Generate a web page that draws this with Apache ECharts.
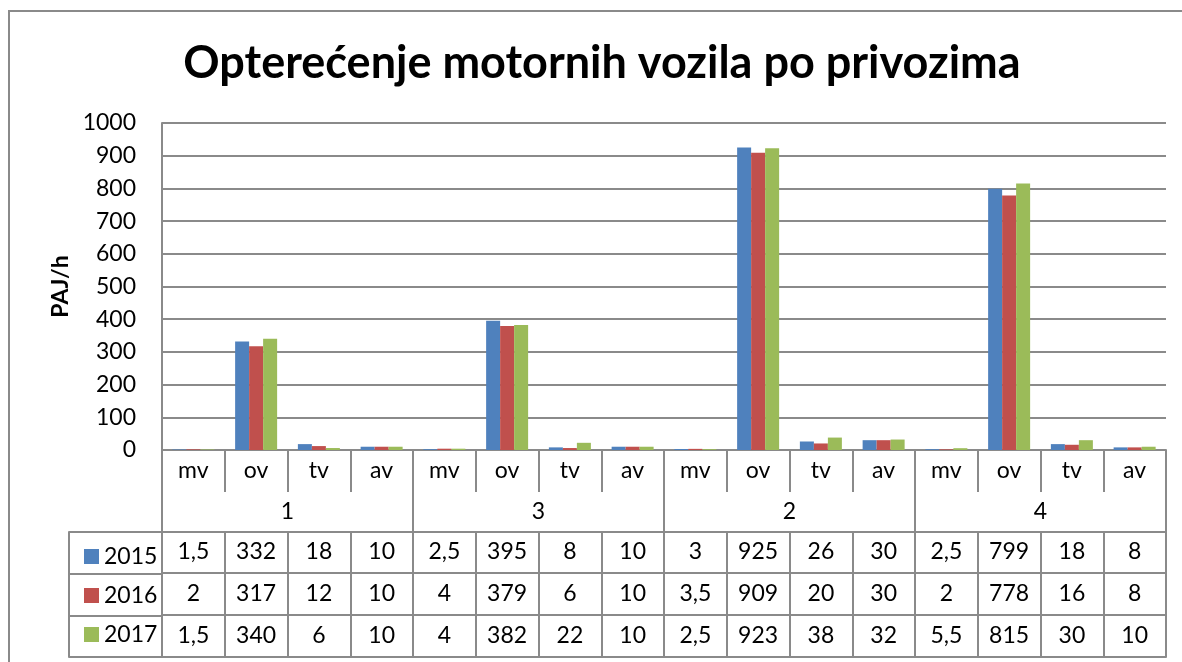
<!DOCTYPE html>
<html>
<head>
<meta charset="utf-8">
<script src="https://cdn.jsdelivr.net/npm/echarts@6/dist/echarts.min.js"></script>
<style>
  html, body { margin: 0; padding: 0; background: #fff; }
  #chart { width: 1182px; height: 662px; }
</style>
</head>
<body>
<div id="chart"></div>
<script>
// Approaches (privozi) and vehicle types per approach
const approaches = ['1', '3', '2', '4'];
const vehicleTypes = ['mv', 'ov', 'tv', 'av'];
const years = ['2015', '2016', '2017'];

// Hourly volumes (PAJ/h), in approach order, mv/ov/tv/av within each approach
const v2015 = [1.5, 332, 18, 10, 2.5, 395, 8, 10, 3, 925, 26, 30, 2.5, 799, 18, 8];
const v2016 = [2, 317, 12, 10, 4, 379, 6, 10, 3.5, 909, 20, 30, 2, 778, 16, 8];
const v2017 = [1.5, 340, 6, 10, 4, 382, 22, 10, 2.5, 923, 38, 32, 5.5, 815, 30, 10];

const yMin = 0, yMax = 1000, yStep = 100;

const colors = ['#4F81BD', '#C0504D', '#9BBB59'];
const lineColor = '#8a8a8a';
const font = 'Lato';

const categories = approaches.flatMap(a => vehicleTypes.map(t => t));
const fmt = v => String(v).replace('.', ',');

const gridLine = { lineStyle: { color: lineColor, width: 2 } };
const labelStyle = { color: '#000', fontFamily: font, fontSize: 23 };

// one table row drawn as a category axis below the plot
function tableRow(data, offset, tickLen, margin, showLine) {
  return {
    type: 'category', gridIndex: 0, position: 'bottom', offset: offset,
    data: data,
    axisLine: { show: showLine, lineStyle: { color: lineColor, width: 2 } },
    axisTick: { show: tickLen > 0, length: tickLen, interval: 0, lineStyle: { color: lineColor, width: 2 } },
    axisLabel: Object.assign({ interval: 0, margin: margin, verticalAlign: 'middle', lineHeight: 23 }, labelStyle),
    splitLine: { show: false }
  };
}

const chart = echarts.init(document.getElementById('chart'), null, { renderer: 'canvas' });

chart.setOption({
  animation: false,
  backgroundColor: '#fff',
  color: colors,
  title: {
    text: 'Opterećenje motornih vozila po privozima',
    left: 597, top: 36, textAlign: 'center',
    textStyle: { fontFamily: font, fontWeight: 'bold', fontSize: 45, color: '#000' }
  },
  legend: {
    orient: 'vertical', left: 79, top: 540,
    itemWidth: 15, itemHeight: 15, itemGap: 16,
    icon: 'rect',
    data: years,
    textStyle: { color: '#000', fontFamily: font, fontSize: 23, lineHeight: 23 }
  },
  grid: [
    { left: 162, right: 16, top: 123, bottom: 212, containLabel: false },
    { left: 69, width: 93, top: 532, height: 125, containLabel: false }
  ],
  xAxis: [
    tableRow(categories, 0, 42, 21, true),
    tableRow(approaches, 0, 82, 62, false),
    tableRow(v2015.map(fmt), 82, 41, 20, true),
    tableRow(v2016.map(fmt), 123, 42, 21, true),
    tableRow(v2017.map(fmt), 165, 42, 21, true),
    tableRow(categories.map(() => ''), 207, 0, 0, true),
    { type: 'value', gridIndex: 1, min: 0, max: 1, show: false }
  ],
  yAxis: [
    {
      type: 'value', gridIndex: 0, min: yMin, max: yMax, interval: yStep,
      name: 'PAJ/h', nameLocation: 'middle', nameGap: 86, nameRotate: 90,
      nameTextStyle: { fontFamily: font, fontWeight: 'bold', fontSize: 23, color: '#000' },
      axisLine: { show: true, lineStyle: { color: lineColor, width: 2 } },
      axisTick: { show: false },
      axisLabel: Object.assign({ margin: 26, formatter: v => String(v) }, labelStyle),
      splitLine: gridLine
    },
    {
      type: 'category', gridIndex: 1, data: years.slice().reverse(),
      axisLine: { show: true, lineStyle: { color: lineColor, width: 2 } },
      axisTick: { show: false },
      axisLabel: { show: false },
      splitLine: { show: true, interval: 0, lineStyle: { color: lineColor, width: 2 } }
    }
  ],
  series: [
    { name: years[0], type: 'bar', xAxisIndex: 0, yAxisIndex: 0, data: v2015, barWidth: 14, barGap: '0%' },
    { name: years[1], type: 'bar', xAxisIndex: 0, yAxisIndex: 0, data: v2016, barWidth: 14, barGap: '0%' },
    { name: years[2], type: 'bar', xAxisIndex: 0, yAxisIndex: 0, data: v2017, barWidth: 14, barGap: '0%' }
  ],
  graphic: [
    {
      type: 'rect', silent: true, z: -1,
      shape: { x: 9, y: 11, width: 1200, height: 700 },
      style: { fill: 'none', stroke: lineColor, lineWidth: 2 }
    }
  ]
});
</script>
</body>
</html>
